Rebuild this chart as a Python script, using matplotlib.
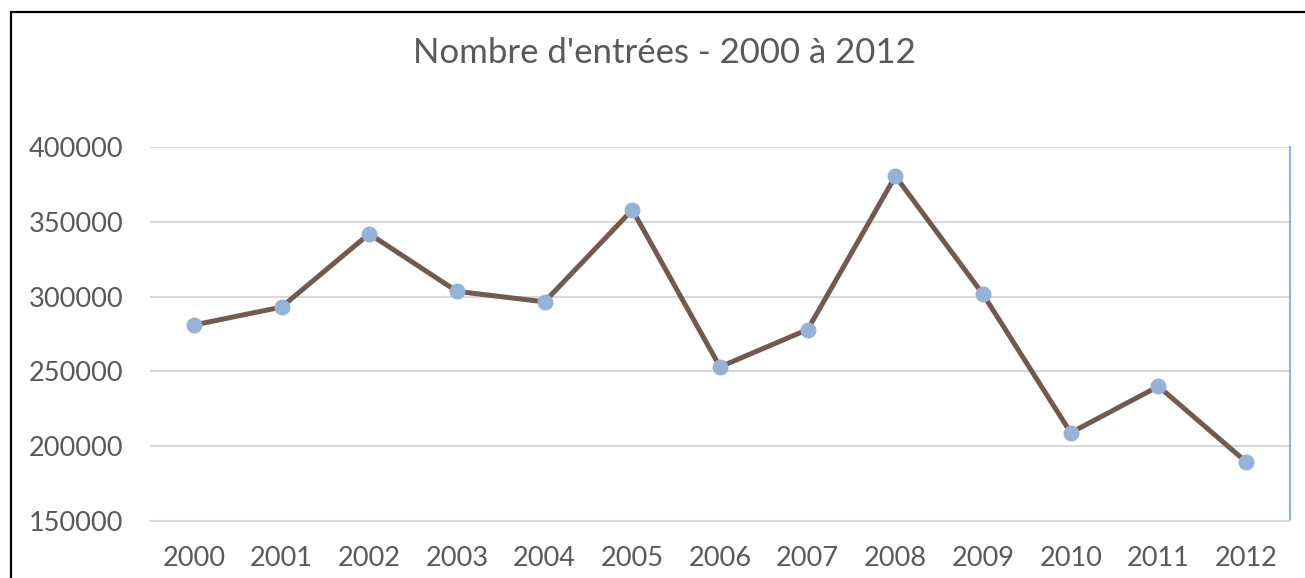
import matplotlib.pyplot as plt
from matplotlib.patches import Rectangle

years = ["2000", "2001", "2002", "2003", "2004", "2005", "2006",
         "2007", "2008", "2009", "2010", "2011", "2012"]
entrees = [281000, 293000, 342000, 303500, 296500, 358000, 253000,
           278000, 380500, 301500, 209000, 240000, 189500]
yticks = [150000, 200000, 250000, 300000, 350000, 400000]

plt.rcParams['font.family'] = ['Lato', 'DejaVu Sans']
text_col = "#595959"

fig = plt.figure(figsize=(13.05, 5.78), dpi=100)
ax = fig.add_axes([150/1305, 1 - 521/578, (1290-150)/1305, (521-147)/578])

x = range(len(years))
ax.plot(x, entrees, color="#725a4f", lw=3.6, zorder=3)
ax.plot(x, entrees, ls="none", marker="o", ms=11.5, color="#95b3d7",
        markeredgewidth=0, zorder=4)

ax.set_xlim(-0.5, len(years) - 0.5)
ax.set_ylim(150000, 400000)
ax.set_yticks(yticks)
ax.set_yticklabels([str(v) for v in yticks])
ax.set_xticks(list(x))
ax.set_xticklabels(years)
ax.tick_params(length=0, labelsize=19.5, colors=text_col)
ax.tick_params(axis="y", pad=19)
ax.tick_params(axis="x", pad=18)
ax.grid(axis="y", color="#d9d9d9", lw=1.5)
ax.set_axisbelow(True)
for s in ["top", "left"]:
    ax.spines[s].set_visible(False)
ax.spines["bottom"].set_color("#d9d9d9")
ax.spines["bottom"].set_linewidth(1.5)
ax.spines["right"].set_color("#95b3d7")
ax.spines["right"].set_linewidth(1.5)

fig.text(664/1305, 1 - 53/578, "Nombre d'entrées - 2000 à 2012",
         ha="center", va="center", fontsize=25, color=text_col)

# chart border (right and bottom edges are cut off in the picture)
fig.patches.append(Rectangle((11/1305, -0.1), 1.1, 1 - 12/578 + 0.1,
                             transform=fig.transFigure, fill=False,
                             edgecolor="black", lw=1.6))

fig.savefig("out.png", dpi=100)
